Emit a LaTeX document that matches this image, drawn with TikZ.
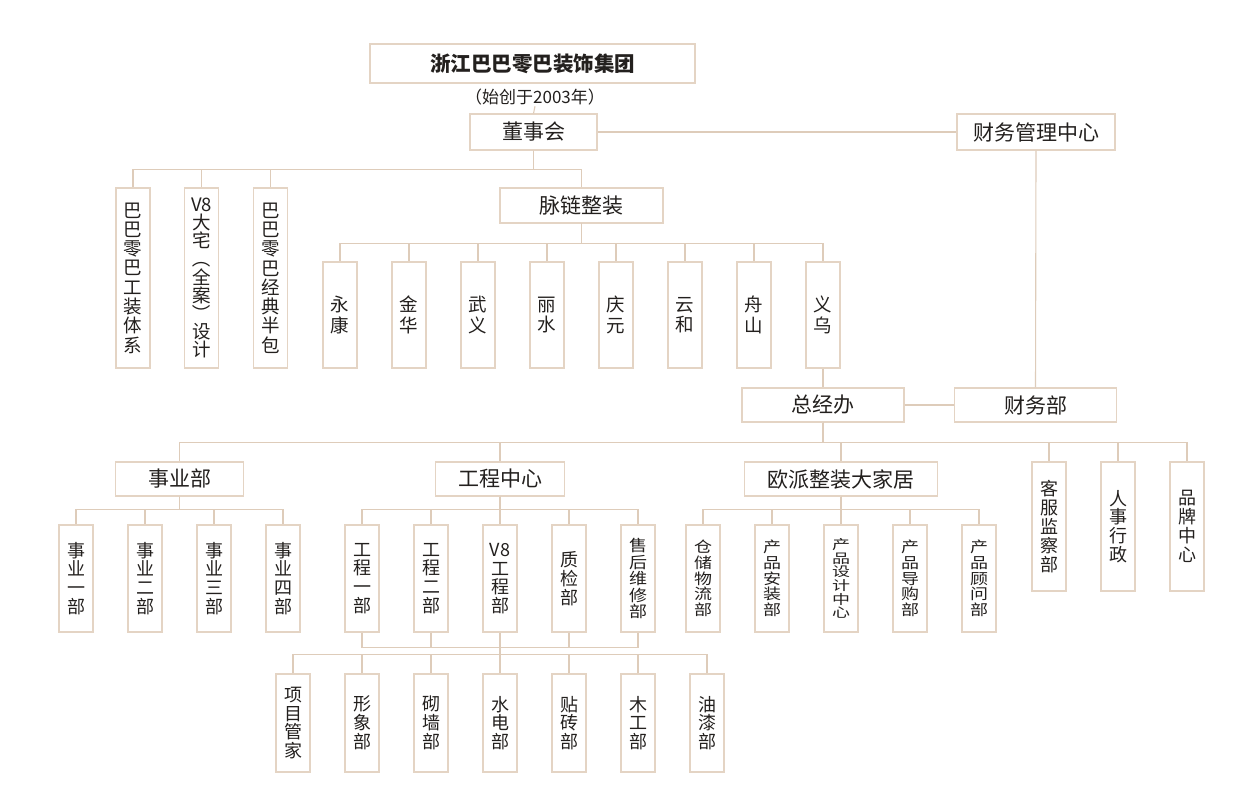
\documentclass[tikz,border=0pt]{standalone}
\usepackage{fontspec}
\usepackage{graphicx}
\newfontfamily\cjk{Noto Sans CJK SC}
\definecolor{boxc}{RGB}{228,212,196}
\definecolor{linec}{RGB}{222,204,186}
\definecolor{txt}{RGB}{35,32,30}
\newcommand\vt[2][1]{\scalebox{1}[#1]{\vbox{\lineskiplimit=-\maxdimen\lineskip=0pt\halign{\hfil##\hfil\cr#2\crcr}}}}
\newcommand\vlp{\rotatebox[origin=c]{-90}{（}}
\newcommand\vrp{\rotatebox[origin=c]{-90}{）}}
\begin{document}
\begin{tikzpicture}[x=1pt,y=-1pt,
  box/.style={draw=boxc, line width=1.1pt, inner sep=0pt, text=txt},
  hb/.style={box, font=\cjk\fontsize{21}{24}\selectfont},
  vb/.style={box, minimum width=34, font=\cjk\fontsize{18.5}{19.3}\selectfont},
  vc/.style={box, minimum width=34, font=\cjk\fontsize{18.5}{20.4}\selectfont},
  vs/.style={box, minimum width=34, font=\cjk\fontsize{18}{18.8}\selectfont},
  conn/.style={draw=linec, line width=1.1pt}]
\fill[white] (0,0) rectangle (1257,800);
\useasboundingbox (0,0) rectangle (1257,800);

% top
\node[box, minimum width=325, minimum height=39, font=\cjk\bfseries\fontsize{20.5}{24}\selectfont] (title) at (532.5,63.5) {浙江巴巴零巴装饰集团};
\node[text=txt, font=\cjk\fontsize{17}{19}\selectfont, inner sep=1pt] (sub) at (535,97) {（始创于2003年）};
\node[hb, minimum width=127, minimum height=36] (dsh) at (533.5,132) {董事会};
\node[hb, minimum width=158, minimum height=36] (cwzx) at (1036,132) {财务管理中心};

% left brands
\node[vb, minimum height=180] (L1) at (133,278) {\vt{巴\cr 巴\cr 零\cr 巴\cr 工\cr 装\cr 体\cr 系}};
\node[box, minimum width=34, minimum height=180, font=\cjk\fontsize{18.5}{18.2}\selectfont] (L2) at (201.5,278) {\vt{V8\cr 大\cr 宅\cr \vlp\cr 全\cr 案\cr \vrp\cr 设\cr 计}};
\node[vb, minimum height=180] (L3) at (270.5,278) {\vt{巴\cr 巴\cr 零\cr 巴\cr 经\cr 典\cr 半\cr 包}};
\node[hb, minimum width=163, minimum height=35] (mlzz) at (581.5,205.5) {脉链整装};

\foreach \a/\b [count=\i] in {永/康,金/华,武/义,丽/水,庆/元,云/和,舟/山,义/乌}
  \node[vc, minimum height=106] (c\i) at ({271+69*\i},315) {\vt{\a\cr\b}};

% middle
\node[hb, minimum width=162, minimum height=34] (zjb) at (823,405) {总经办};
\node[hb, minimum width=162, minimum height=34] (cwb) at (1035.5,405) {财务部};

\node[hb, minimum width=128, minimum height=34] (syb) at (179.5,479) {事业部};
\node[hb, minimum width=129, minimum height=34] (gczx) at (500,479) {工程中心};
\node[hb, minimum width=193, minimum height=34] (opzz) at (841,479) {欧派整装大家居};
\node[vs, minimum height=129] (kf) at (1049,526.5) {\vt{客\cr 服\cr 监\cr 察\cr 部}};
\node[vs, minimum height=129] (rs) at (1118,526.5) {\vt{人\cr 事\cr 行\cr 政}};
\node[vs, minimum height=129] (pp) at (1187,526.5) {\vt{品\cr 牌\cr 中\cr 心}};

% 事业部 children
\node[vs, minimum height=107] (s1) at (76,578.5) {\vt{事\cr 业\cr 一\cr 部}};
\node[vs, minimum height=107] (s2) at (145,578.5) {\vt{事\cr 业\cr 二\cr 部}};
\node[vs, minimum height=107] (s3) at (214,578.5) {\vt{事\cr 业\cr 三\cr 部}};
\node[vs, minimum height=107] (s4) at (283,578.5) {\vt{事\cr 业\cr 四\cr 部}};

% 工程中心 children
\node[vs, minimum height=107] (g1) at (362,578.5) {\vt{工\cr 程\cr 一\cr 部}};
\node[vs, minimum height=107] (g2) at (431,578.5) {\vt{工\cr 程\cr 二\cr 部}};
\node[vs, minimum height=107] (g3) at (500,578.5) {\vt{V8\cr 工\cr 程\cr 部}};
\node[vs, minimum height=107] (g4) at (569,578.5) {\vt{质\cr 检\cr 部}};
\node[vs, minimum height=107] (g5) at (638,578.5) {\vt[0.88]{售\cr 后\cr 维\cr 修\cr 部}};

% 欧派 children
\node[vs, minimum height=107] (o1) at (703,578.5) {\vt[0.83]{仓\cr 储\cr 物\cr 流\cr 部}};
\node[vs, minimum height=107] (o2) at (772,578.5) {\vt[0.83]{产\cr 品\cr 安\cr 装\cr 部}};
\node[vs, minimum height=107] (o3) at (841,578.5) {\vt[0.73]{产\cr 品\cr 设\cr 计\cr 中\cr 心}};
\node[vs, minimum height=107] (o4) at (910,578.5) {\vt[0.83]{产\cr 品\cr 导\cr 购\cr 部}};
\node[vs, minimum height=107] (o5) at (979,578.5) {\vt[0.83]{产\cr 品\cr 顾\cr 问\cr 部}};

% bottom row
\node[vs, minimum height=98] (d1) at (293,723) {\vt{项\cr 目\cr 管\cr 家}};
\node[vs, minimum height=98] (d2) at (362,723) {\vt{形\cr 象\cr 部}};
\node[vs, minimum height=98] (d3) at (431,723) {\vt{砌\cr 墙\cr 部}};
\node[vs, minimum height=98] (d4) at (500,723) {\vt{水\cr 电\cr 部}};
\node[vs, minimum height=98] (d5) at (569,723) {\vt{贴\cr 砖\cr 部}};
\node[vs, minimum height=98] (d6) at (638,723) {\vt{木\cr 工\cr 部}};
\node[vs, minimum height=98] (d7) at (707,723) {\vt{油\cr 漆\cr 部}};

% connectors
\draw[conn] (sub.south) -- (dsh.north);
\draw[conn] (dsh.east) -- (cwzx.west);
\draw[conn] (cwzx.south) -- (cwb.north);
\draw[conn] (zjb.east) -- (cwb.west);
\foreach \n in {L1,L2,L3,mlzz}
  \draw[conn] (dsh.south) -- ++(0,19) -| (\n.north);
\foreach \i in {1,...,8}
  \draw[conn] (mlzz.south) -- ++(0,20) -| (c\i.north);
\draw[conn] (c8.south) -- (zjb.north);
\foreach \n in {syb,gczx,opzz,kf,rs,pp}
  \draw[conn] (zjb.south) -- ++(0,20) -| (\n.north);
\foreach \n in {s1,s2,s3,s4}
  \draw[conn] (syb.south) -- ++(0,13) -| (\n.north);
\foreach \n in {g1,g2,g3,g4,g5}
  \draw[conn] (gczx.south) -- ++(0,13) -| (\n.north);
\foreach \n in {o1,o2,o3,o4,o5}
  \draw[conn] (opzz.south) -- ++(0,13) -| (\n.north);
\draw[conn] (g1.south) -- ++(0,15) -| (g5.south);
\draw[conn] (g2.south) -- ++(0,15);
\draw[conn] (g4.south) -- ++(0,15);
\draw[conn] (g3.south) -- (d4.north);
\foreach \i in {1,...,7}
  \draw[conn] (d\i.north) -- ++(0,-19) -| (d4.north);
\end{tikzpicture}
\end{document}
